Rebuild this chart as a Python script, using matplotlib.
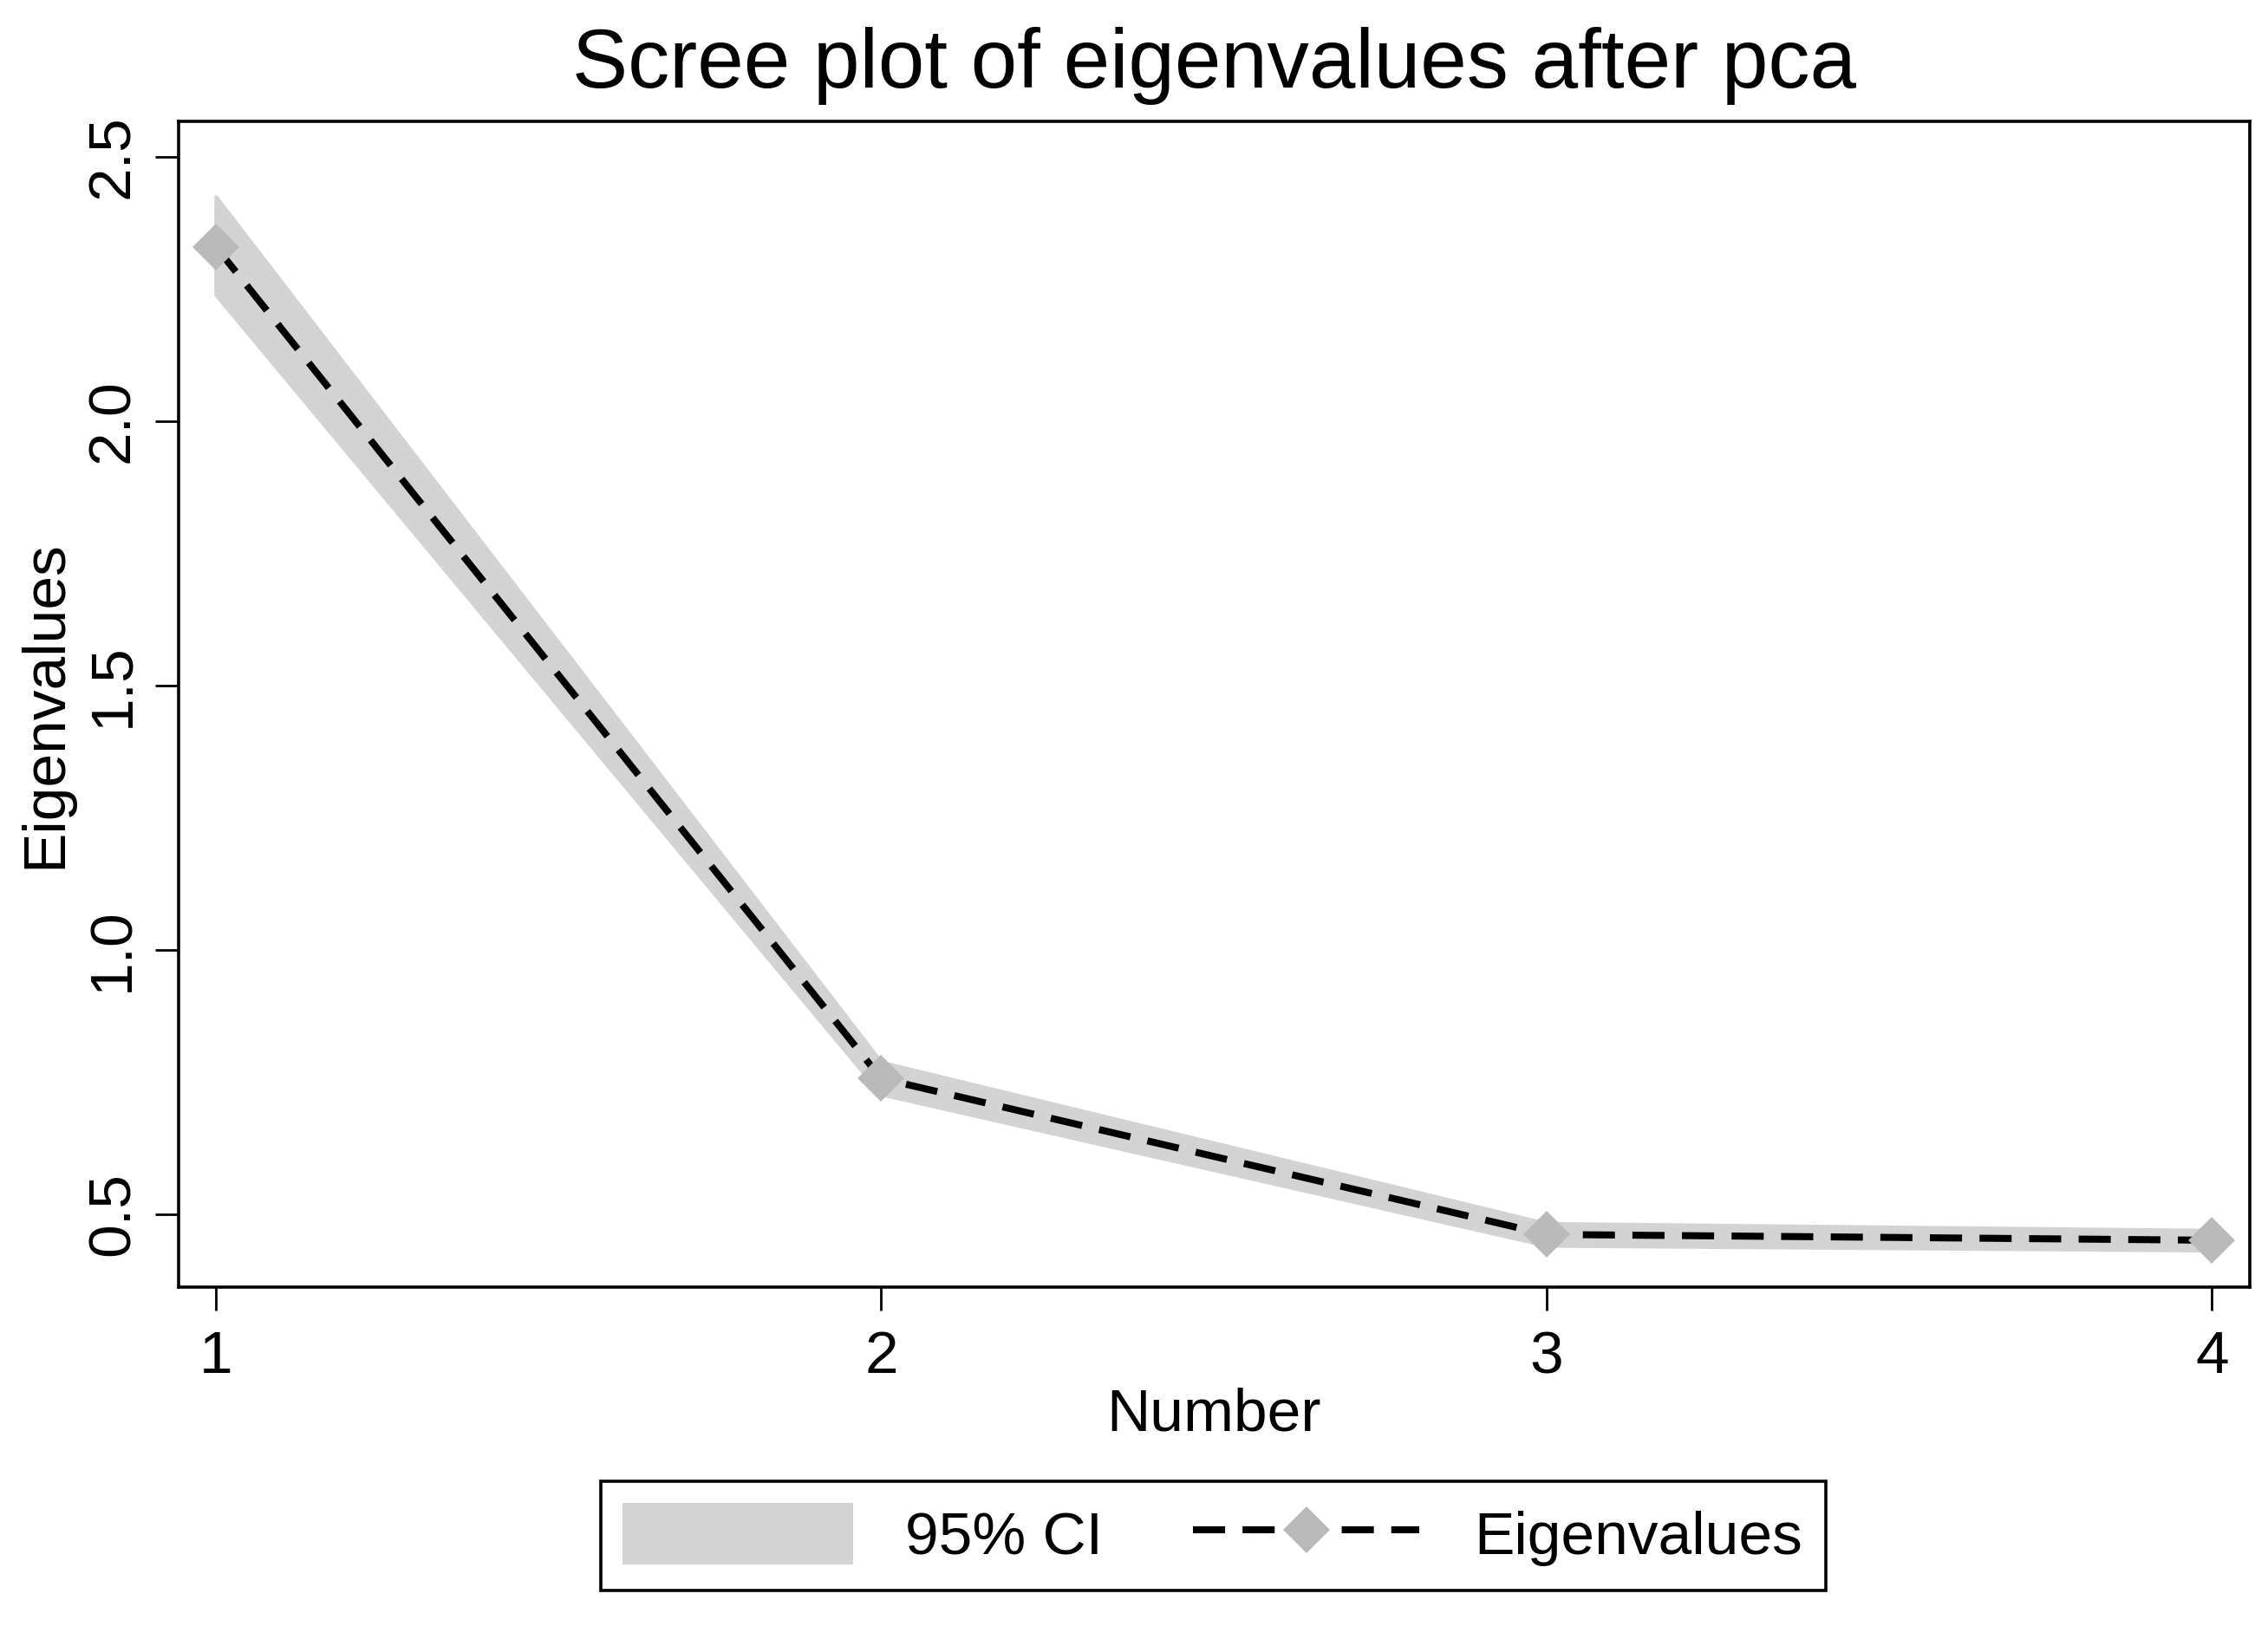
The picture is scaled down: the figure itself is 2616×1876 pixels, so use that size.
import matplotlib
matplotlib.use('Agg')
import matplotlib.pyplot as plt

plt.rcParams['font.family'] = ['Liberation Sans', 'DejaVu Sans']

# data
number = [1, 2, 3, 4]
eigenvalues = [2.330, 0.757, 0.462, 0.451]
ci_lower = [2.239, 0.727, 0.441, 0.432]
ci_upper = [2.425, 0.788, 0.483, 0.470]
xticks = [1, 2, 3, 4]
yticks = [0.5, 1.0, 1.5, 2.0, 2.5]
yticklabels = ['0.5', '1.0', '1.5', '2.0', '2.5']

band_col = '#d3d3d3'
mark_col = '#b9b9b9'
fs = 25

fig = plt.figure(figsize=(13.08, 9.38), dpi=200)
ax = fig.add_axes([0.0787, 0.2084, 0.9133, 0.717])

ax.fill_between(number, ci_lower, ci_upper, color=band_col, edgecolor=band_col,
                linewidth=1.5, joinstyle='round', label='95% CI', zorder=1)
ax.plot(number, eigenvalues, color='black', linewidth=2.9, linestyle=(0, (4.6, 2.5)),
        marker='D', markersize=12, markerfacecolor=mark_col, markeredgecolor=mark_col,
        markeredgewidth=1.5, label='Eigenvalues', zorder=2)

ax.set_xlim(0.944, 4.057)
ax.set_ylim(0.3623, 2.567)
ax.set_xticks(xticks)
ax.set_yticks(yticks)
ax.set_yticklabels(yticklabels, rotation=90, va='center')

for s in ax.spines.values():
    s.set_linewidth(1.3)
ax.tick_params(axis='both', length=9.7, width=1.0, labelsize=fs, color='black')
ax.tick_params(axis='x', pad=8)
ax.tick_params(axis='y', pad=6)

ax.set_xlabel('Number', fontsize=fs, labelpad=1)
ax.set_ylabel('Eigenvalues', fontsize=fs, labelpad=5)
ax.set_title('Scree plot of eigenvalues after pca', fontsize=34.6, pad=14)

leg = fig.legend(loc='center', bbox_to_anchor=(0.535, 0.0555), ncol=2, fontsize=fs,
                 frameon=True, fancybox=False, edgecolor='black', framealpha=1,
                 handlelength=3.76, handleheight=1.1, handletextpad=0.9,
                 columnspacing=1.5, borderpad=0.4, numpoints=1)
leg.get_frame().set_linewidth(1.3)

fig.savefig('out.png', dpi=200)
